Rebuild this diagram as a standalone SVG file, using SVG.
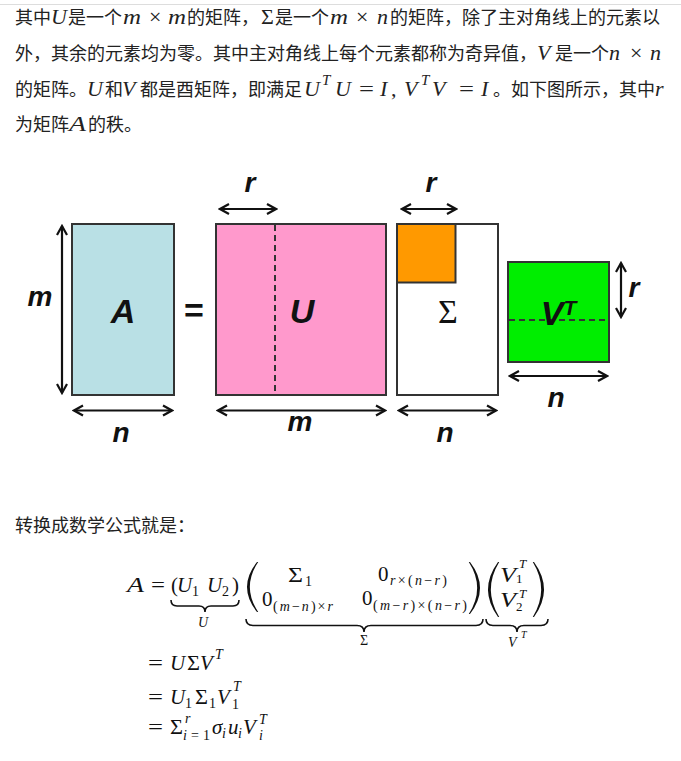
<svg xmlns="http://www.w3.org/2000/svg" width="681" height="761" viewBox="0 0 681 761">
<style>
.cjk{font-family:"Noto Sans CJK SC","Noto Sans",sans-serif;font-size:18px;fill:#222}
.mi{font-family:"Liberation Serif",serif;font-style:italic;font-size:22px;fill:#222}
.mu{font-family:"Liberation Serif",serif;font-size:22px;fill:#222}
.ms{font-family:"Liberation Serif",serif;font-style:italic;font-size:15px;fill:#222}
.f{font-family:"Liberation Serif",serif;font-size:21px;fill:#111}
.fi{font-family:"Liberation Serif",serif;font-style:italic;font-size:21px;fill:#111}
.fs{font-family:"Liberation Serif",serif;font-size:14px;fill:#111}
.fsi{font-family:"Liberation Serif",serif;font-style:italic;font-size:14px;fill:#111}
.fvs{font-family:"Liberation Serif",serif;font-style:italic;font-size:13px;fill:#111}
.fvu{font-family:"Liberation Serif",serif;font-size:13px;fill:#111}
.fxs{font-family:"Liberation Serif",serif;font-style:italic;font-size:10px;fill:#111}
.it{font-style:italic}
.lbl{font-family:"Liberation Sans",Arial,sans-serif;font-weight:bold;font-style:italic;font-size:28px;fill:#111;text-anchor:middle}
.big{font-family:"Liberation Sans",Arial,sans-serif;font-weight:bold;font-style:italic;font-size:34px;fill:#111;text-anchor:middle}
.box{stroke:#333;stroke-width:2}
.dash{stroke:#333;stroke-width:2;stroke-dasharray:6,4;fill:none}
.arr{stroke:#111;stroke-width:2.2;fill:none;marker-start:url(#ah);marker-end:url(#ah)}
.brace{stroke:#111;stroke-width:1.6;fill:none}
.par{fill:#111}
</style>
<defs>
<marker id="ah" markerUnits="userSpaceOnUse" viewBox="-12 -7 14 14" refX="0" refY="0" markerWidth="14" markerHeight="14" orient="auto-start-reverse">
<path d="M-9,-5 L0,0 L-9,5" stroke="#111" stroke-width="2.2" fill="none"/>
</marker>
</defs>
<rect width="681" height="761" fill="#fff"/>
<line x1="0" y1="4.5" x2="681" y2="4.5" stroke="#ddd" stroke-width="1"/>

<g id="paragraph">
<text class="cjk" x="15" y="24">其中</text>
<text class="mi" x="51" y="24">U</text>
<text class="cjk" x="68" y="24">是一个</text>
<text class="mi" x="123" y="24" textLength="18" lengthAdjust="spacingAndGlyphs">m</text>
<text class="mu" x="149" y="24">×</text>
<text class="mi" x="168" y="24" textLength="18" lengthAdjust="spacingAndGlyphs">m</text>
<text class="cjk" x="187" y="24">的矩阵，</text>
<text class="mu" x="261" y="24">Σ</text>
<text class="cjk" x="275" y="24">是一个</text>
<text class="mi" x="330" y="24" textLength="18" lengthAdjust="spacingAndGlyphs">m</text>
<text class="mu" x="356" y="24">×</text>
<text class="mi" x="377" y="24">n</text>
<text class="cjk" x="390" y="24">的矩阵，除了主对角线上的元素以</text>

<text class="cjk" x="15" y="60">外，其余的元素均为零。其中主对角线上每个元素都称为奇异值，</text>
<text class="mi" x="537" y="60">V</text>
<text class="cjk" x="555" y="60">是一个</text>
<text class="mi" x="609" y="60">n</text>
<text class="mu" x="630" y="60">×</text>
<text class="mi" x="650" y="60">n</text>

<text class="cjk" x="15" y="96">的矩阵。</text>
<text class="mi" x="87" y="96">U</text>
<text class="cjk" x="105" y="96">和</text>
<text class="mi" x="122" y="96">V</text>
<text class="cjk" x="140" y="96">都是酉矩阵，即满足</text>
<text class="mi" x="304" y="96">U</text>
<text class="ms" x="322" y="85">T</text>
<text class="mi" x="335" y="96">U</text>
<text class="mu" x="359" y="96" textLength="15" lengthAdjust="spacingAndGlyphs">=</text>
<text class="mi" x="380" y="96">I</text>
<text class="mu" x="391" y="96">,</text>
<text class="mi" x="404" y="96">V</text>
<text class="ms" x="421" y="85">T</text>
<text class="mi" x="432" y="96">V</text>
<text class="mu" x="459" y="96" textLength="15" lengthAdjust="spacingAndGlyphs">=</text>
<text class="mi" x="481" y="96">I</text>
<text class="cjk" x="493" y="96">。如下图所示，其中</text>
<text class="mi" x="655" y="96">r</text>

<text class="cjk" x="15" y="131">为矩阵</text>
<text class="mi" x="69" y="131" textLength="17" lengthAdjust="spacingAndGlyphs">A</text>
<text class="cjk" x="88" y="131">的秩。</text>
</g>

<g id="matrix-A">
<rect class="box" x="72" y="224" width="102" height="171" fill="#b9e0e5"/>
<text class="big" x="123" y="323">A</text>
<text class="lbl" x="40" y="306">m</text>
<text class="lbl" x="121" y="442">n</text>
</g>

<g id="equals">
<text x="194" y="322" font-family="Liberation Sans,Arial,sans-serif" font-weight="bold" font-size="34" fill="#111" text-anchor="middle">=</text>
</g>

<g id="matrix-U">
<rect class="box" x="216" y="224" width="170" height="171" fill="#ff99cc"/>
<line class="dash" x1="275" y1="225" x2="275" y2="394"/>
<text class="big" x="302" y="323">U</text>
<text class="lbl" x="250" y="192">r</text>
<text class="lbl" x="300" y="431">m</text>
</g>

<g id="matrix-Sigma">
<rect class="box" x="397" y="224" width="101" height="171" fill="#fff"/>
<rect class="box" x="397" y="224" width="58.5" height="58.5" fill="#ff9900"/>
<text x="448" y="323" font-family="Liberation Serif,serif" font-size="34" fill="#111" text-anchor="middle">Σ</text>
<text class="lbl" x="431" y="192">r</text>
<text class="lbl" x="445" y="442">n</text>
</g>

<g id="matrix-VT">
<rect class="box" x="508" y="262" width="101" height="100" fill="#00ee00"/>
<line class="dash" x1="509" y1="320" x2="608" y2="320"/>
<text class="big" x="552" y="325">V</text>
<text x="570" y="315" font-family="Liberation Sans,Arial,sans-serif" font-weight="bold" font-style="italic" font-size="21" fill="#111" text-anchor="middle">T</text>
<text class="lbl" x="634" y="297">r</text>
<text class="lbl" x="556" y="407">n</text>
</g>

<g id="connectors">
<line class="arr" x1="62" y1="226" x2="62" y2="393"/>
<line class="arr" x1="74" y1="410.5" x2="172" y2="410.5"/>
<line class="arr" x1="220" y1="209" x2="276" y2="209"/>
<line class="arr" x1="218" y1="410.5" x2="385" y2="410.5"/>
<line class="arr" x1="402" y1="209" x2="456" y2="209"/>
<line class="arr" x1="399" y1="410.5" x2="496" y2="410.5"/>
<line class="arr" x1="621" y1="263" x2="621" y2="317"/>
<line class="arr" x1="510" y1="376" x2="607" y2="376"/>
</g>

<g id="caption">
<text class="cjk" x="15" y="532">转换成数学公式就是：</text>
</g>

<g id="formula">
<text class="fi" x="127" y="592" textLength="17" lengthAdjust="spacingAndGlyphs">A</text>
<text class="f" x="151" y="592" textLength="14" lengthAdjust="spacingAndGlyphs">=</text>
<text class="f" x="171" y="592">(</text>
<text class="fi" x="177" y="592">U</text>
<text class="fs" x="192" y="596">1</text>
<text class="fi" x="207" y="592">U</text>
<text class="fs" x="222" y="596">2</text>
<text class="f" x="232" y="592">)</text>
<path class="brace" d="M171,600 Q171,606 177,606 L199,606 Q205,606 205,612 Q205,606 211,606 L233,606 Q239,606 239,600"/>
<text class="fsi" x="198" y="627">U</text>

<path class="par" d="M257,562 Q237,587 257,612 L258.2,612 Q241.5,587 258.2,562 Z"/>
<path class="par" d="M470,562 Q490,588 470,614 L468.8,614 Q485.5,588 468.8,562 Z"/>
<text class="f" x="288" y="582" textLength="15" lengthAdjust="spacingAndGlyphs">Σ</text>
<text class="fs" x="305" y="586">1</text>
<text class="f" x="378" y="581">0</text>
<text class="fs" x="390" y="585" textLength="57" lengthAdjust="spacing"><tspan class="it">r</tspan>×(<tspan class="it">n</tspan>−<tspan class="it">r</tspan>)</text>
<text class="f" x="262" y="606">0</text>
<text class="fs" x="273" y="611" textLength="60" lengthAdjust="spacing">(<tspan class="it">m</tspan>−<tspan class="it">n</tspan>)×<tspan class="it">r</tspan></text>
<text class="f" x="362" y="605">0</text>
<text class="fs" x="373" y="610" textLength="94" lengthAdjust="spacing">(<tspan class="it">m</tspan>−<tspan class="it">r</tspan>)×(<tspan class="it">n</tspan>−<tspan class="it">r</tspan>)</text>
<path class="brace" d="M246,619 Q246,625.5 253,625.5 L357,625.5 Q364,625.5 364,632 Q364,625.5 371,625.5 L476,625.5 Q483,625.5 483,619"/>
<text class="fs" x="360" y="645">Σ</text>

<path class="par" d="M498,562 Q478,589.5 498,617 L499.2,617 Q482.5,589.5 499.2,562 Z"/>
<path class="par" d="M534,562 Q554,589.5 534,617 L532.8,617 Q549.5,589.5 532.8,562 Z"/>
<text class="fi" x="500" y="582" textLength="16" lengthAdjust="spacingAndGlyphs">V</text>
<text class="fvs" x="519" y="568">T</text>
<text class="fvu" x="516" y="582.5">1</text>
<text class="fi" x="500" y="607" textLength="16" lengthAdjust="spacingAndGlyphs">V</text>
<text class="fvs" x="519" y="597.5">T</text>
<text class="fvu" x="516" y="611">2</text>
<path class="brace" d="M486,619 Q486,625.5 493,625.5 L510,625.5 Q517,625.5 517,632 Q517,625.5 524,625.5 L541,625.5 Q548,625.5 548,619"/>
<text class="fsi" x="508" y="647">V</text>
<text class="fxs" x="521" y="638">T</text>

<text class="f" x="148" y="670" textLength="15" lengthAdjust="spacingAndGlyphs">=</text>
<text class="fi" x="170" y="670">U</text>
<text class="f" x="187" y="670" textLength="13" lengthAdjust="spacingAndGlyphs">Σ</text>
<text class="fi" x="200" y="670">V</text>
<text class="fsi" x="215" y="659">T</text>

<text class="f" x="148" y="704" textLength="15" lengthAdjust="spacingAndGlyphs">=</text>
<text class="fi" x="170" y="704">U</text>
<text class="fs" x="185" y="708">1</text>
<text class="f" x="195" y="704" textLength="13" lengthAdjust="spacingAndGlyphs">Σ</text>
<text class="fs" x="209" y="708">1</text>
<text class="fi" x="217" y="704">V</text>
<text class="fs" x="232" y="709">1</text>
<text class="fsi" x="233" y="691">T</text>

<text class="f" x="148" y="734" textLength="15" lengthAdjust="spacingAndGlyphs">=</text>
<text class="f" x="170" y="734" textLength="13" lengthAdjust="spacingAndGlyphs">Σ</text>
<text class="fsi" x="185" y="723">r</text>
<text class="fs" x="183" y="740" textLength="27" lengthAdjust="spacing"><tspan class="it">i</tspan>=1</text>
<text class="fi" x="212" y="734">σ</text>
<text class="fsi" x="222" y="738">i</text>
<text class="fi" x="228" y="734">u</text>
<text class="fsi" x="238" y="738">i</text>
<text class="fi" x="243" y="734">V</text>
<text class="fsi" x="259" y="724">T</text>
<text class="fsi" x="259" y="740">i</text>
</g>
</svg>
